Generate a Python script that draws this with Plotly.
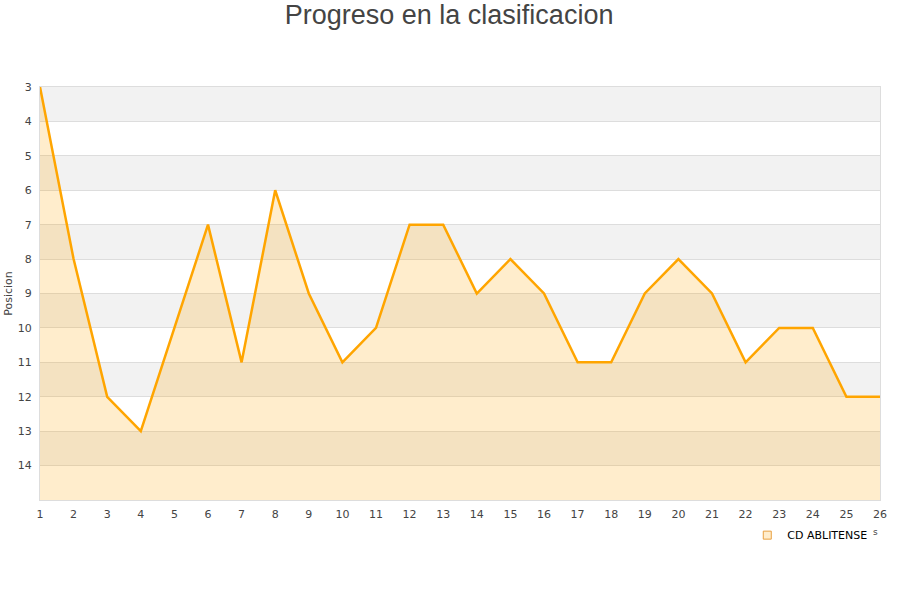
import plotly.graph_objects as go

jornadas = list(range(1, 27))
posiciones = [3, 8, 12, 13, 10, 7, 11, 6, 9, 11, 10, 7, 7, 9, 8, 9, 11, 11, 9, 8, 9, 11, 10, 10, 12, 12]
equipo = "CD ABLITENSE"
y_ticks = list(range(3, 15))
y_bottom = 15

fig = go.Figure()
fig.add_trace(go.Scatter(x=jornadas, y=[y_bottom] * len(jornadas), mode="lines",
                         line=dict(width=0), showlegend=False, hoverinfo="skip"))
fig.add_trace(go.Scatter(x=jornadas, y=posiciones, mode="lines", fill="tonexty",
                         fillcolor="rgba(255,165,0,0.2)",
                         line=dict(color="#FFA500", width=2.5), showlegend=False, name=equipo))
fig.add_trace(go.Scatter(x=[None], y=[None], mode="markers", name=equipo,
                         marker=dict(symbol="square", size=8, color="rgba(255,165,0,0.2)",
                                     line=dict(color="#E8A040", width=1))))

shapes = []
for i, v in enumerate(range(3, 15)):
    if i % 2 == 0:
        shapes.append(dict(type="rect", xref="paper", yref="y", x0=0, x1=1, y0=v, y1=v + 1,
                           fillcolor="#F2F2F2", line=dict(width=0), layer="below"))

fig.update_layout(
    width=900, height=600,
    paper_bgcolor="white", plot_bgcolor="white",
    margin=dict(l=40, r=20, t=87, b=100, autoexpand=False),
    title=dict(text="Progreso en la clasificacion", x=0.499, xanchor="center", y=0.992, yanchor="top",
               font=dict(family="Liberation Sans", size=27, color="#444")),
    font=dict(family="DejaVu Sans", size=11, color="#444"),
    shapes=shapes,
    showlegend=True,
    legend=dict(x=0.842, y=-0.05, xanchor="left", yanchor="top", orientation="h",
                font=dict(family="DejaVu Sans", size=11, color="#000"), bgcolor="rgba(0,0,0,0)"),
    annotations=[dict(text="s", x=1.0, y=-0.094, xref="paper", yref="paper", showarrow=False,
                      font=dict(size=9, color="#444"))],
)
fig.update_xaxes(range=[1, 26], tickvals=jornadas, showgrid=False, zeroline=False, automargin=False,
                 showline=True, linecolor="#DDD", mirror=True,
                 ticks="outside", ticklen=4, tickcolor="rgba(0,0,0,0)", tickfont=dict(size=11))
fig.update_yaxes(range=[y_bottom, 3], tickvals=y_ticks, showgrid=True, gridcolor="#DDD",
                 zeroline=False, showline=True, linecolor="#DDD", mirror=True, automargin=False,
                 ticks="outside", ticklen=5, tickcolor="rgba(0,0,0,0)",
                 title=dict(text="Posicion", font=dict(size=11, color="#444"), standoff=2))

fig.write_html("out.html", config={"displayModeBar": False},
               post_script="document.body.style.margin='0';")
